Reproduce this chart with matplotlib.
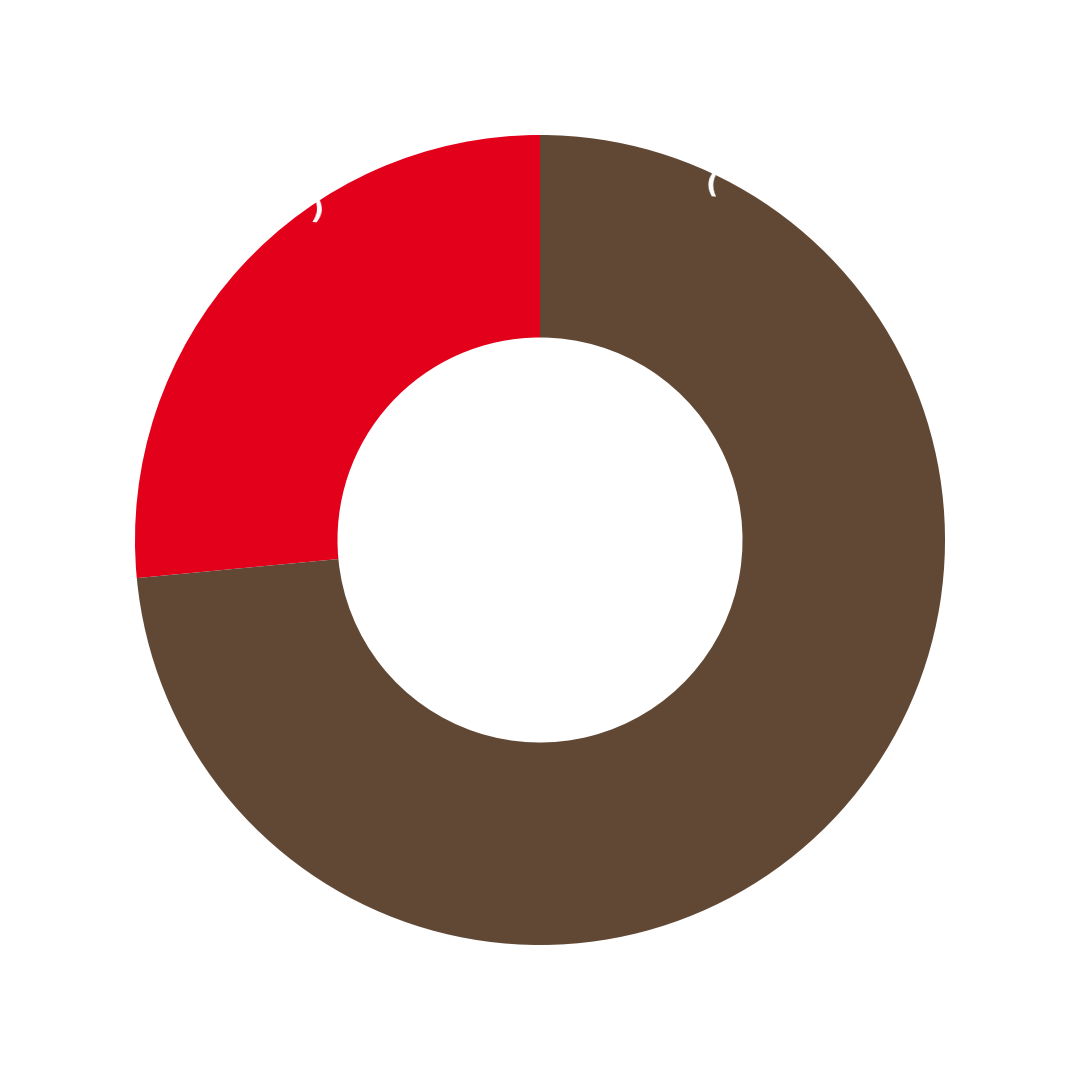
import matplotlib
matplotlib.use("Agg")
import matplotlib.pyplot as plt

#   slice data
labels = ["Red", "Brown"]
shares = [26.5, 73.5]
colors = ["#E3001B", "#614835"]

#   label fragments that show in white on the ring
marks = ["(", ")"]
markPos = [(0.424, 0.876), (-0.551, 0.810)]


def main():
    fig = plt.figure(figsize=(10.8, 10.8), dpi=100)
    ax = fig.add_axes([0, 0, 1, 1])

    ax.pie(shares, colors=colors, startangle=90, counterclock=True,
           radius=1.0, wedgeprops=dict(width=0.5, linewidth=0))

    for mark, (x, y) in zip(marks, markPos):
        ax.text(x, y, mark, color="white", fontsize=21, fontweight="bold",
                ha="center", va="center", rotation=-4)

    ax.set_xlim(-1.3333, 1.3333)
    ax.set_ylim(-1.3333, 1.3333)
    ax.set_aspect("equal")
    ax.axis("off")

    fig.savefig("out.png", dpi=100, facecolor="white")


if __name__ == "__main__":
    main()
